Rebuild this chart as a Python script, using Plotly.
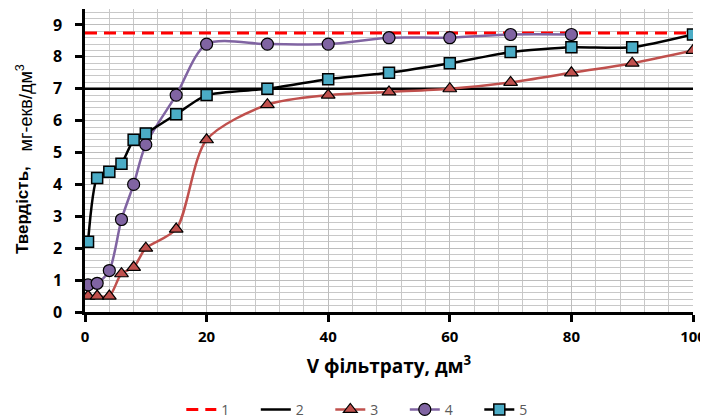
import plotly.graph_objects as go

# ---- data ----
line1_x = [0, 100]
line1_y = [8.75, 8.75]
line2_x = [0, 100]
line2_y = [7.0, 7.0]

s3_x = [0.5, 2, 4, 6, 8, 10, 15, 20, 30, 40, 50, 60, 70, 80, 90, 100]
s3_y = [0.5, 0.5, 0.5, 1.2, 1.4, 2.0, 2.6, 5.4, 6.5, 6.8, 6.9, 7.0, 7.2, 7.5, 7.8, 8.2]

s4_x = [0.5, 2, 4, 6, 8, 10, 15, 20, 30, 40, 50, 60, 70, 80]
s4_y = [0.85, 0.9, 1.3, 2.9, 4.0, 5.25, 6.8, 8.4, 8.4, 8.4, 8.6, 8.6, 8.7, 8.7]

s5_x = [0.5, 2, 4, 6, 8, 10, 15, 20, 30, 40, 50, 60, 70, 80, 90, 100]
s5_y = [2.2, 4.2, 4.4, 4.65, 5.4, 5.6, 6.2, 6.8, 7.0, 7.3, 7.5, 7.8, 8.15, 8.3, 8.3, 8.7]

legend_names = ["1", "2", "3", "4", "5"]
x_title = "V фільтрату, дм<sup>3</sup>"
y_title_main = "Твердість,"
y_title_unit = "мг-екв/дм<sup>3</sup>"

FONT = "Open Sans"
TITLE_FONT = "Liberation Sans"

fig = go.Figure()
fig.add_trace(go.Scatter(x=line1_x, y=line1_y, mode="lines", name=legend_names[0],
                         line=dict(color="#FF0000", width=3, dash="12px,7px")))
fig.add_trace(go.Scatter(x=line2_x, y=line2_y, mode="lines", name=legend_names[1],
                         line=dict(color="#000000", width=2.5)))
fig.add_trace(go.Scatter(x=s3_x, y=s3_y, mode="lines+markers", name=legend_names[2],
                         line=dict(color="#C0504D", width=2.5, shape="spline", smoothing=0.8),
                         marker=dict(symbol="triangle-up", size=12, color="#C0504D",
                                     line=dict(color="#000000", width=1.2))))
fig.add_trace(go.Scatter(x=s4_x, y=s4_y, mode="lines+markers", name=legend_names[3],
                         line=dict(color="#8064A2", width=2.5, shape="spline", smoothing=0.8),
                         marker=dict(symbol="circle", size=12, color="#8064A2",
                                     line=dict(color="#000000", width=1.2))))
fig.add_trace(go.Scatter(x=s5_x, y=s5_y, mode="lines+markers", name=legend_names[4],
                         line=dict(color="#000000", width=2.5, shape="spline", smoothing=0.6),
                         marker=dict(symbol="square", size=11, color="#4BACC6",
                                     line=dict(color="#000000", width=1.5))))

# page body has an 8px margin: figure is 700x410 so it fills the 708x418 window
fig.update_layout(
    width=700, height=410,
    margin=dict(l=77, r=15, t=1, b=106),
    paper_bgcolor="white", plot_bgcolor="white",
    font=dict(family=FONT, color="#000000"),
    showlegend=True,
    legend=dict(orientation="h", xref="container", x=0.514, xanchor="center",
                yref="container", y=0.02, yanchor="middle",
                font=dict(size=14, color="#595959"), entrywidth=29.5, entrywidthmode="pixels",
                tracegroupgap=0),
)
# y-axis title in two parts (bold quantity + unit)
fig.add_annotation(
    xref="paper", yref="paper", x=-0.1036, y=0.3366, xanchor="center", yanchor="middle",
    textangle=-90, showarrow=False, text="<b>" + y_title_main + "</b>",
    font=dict(family=TITLE_FONT, size=17, color="#000000"),
)
fig.add_annotation(
    xref="paper", yref="paper", x=-0.0987, y=0.675, xanchor="center", yanchor="middle",
    textangle=-90, showarrow=False, text=y_title_unit,
    font=dict(family=TITLE_FONT, size=18, color="#000000"),
)
fig.update_xaxes(
    range=[0, 100], dtick=20, tick0=0, automargin=False,
    showline=True, linecolor="#000000", linewidth=2.5,
    ticks="outside", ticklen=7, tickwidth=2.5, tickcolor="#000000",
    ticklabelstandoff=2,
    tickfont=dict(size=15, family=FONT, weight="bold"),
    showgrid=True, gridcolor="#BDBDBD", gridwidth=1,
    minor=dict(dtick=4, showgrid=True, gridcolor="#C8C8C8", gridwidth=1),
    zeroline=False,
    title=dict(text=x_title, font=dict(size=19, family=FONT, weight="bold"), standoff=15),
)
fig.update_yaxes(
    range=[0, 9.5], dtick=1, tick0=0, automargin=False,
    showline=True, linecolor="#000000", linewidth=2.5,
    ticks="outside", ticklen=7, tickwidth=2.5, tickcolor="#000000",
    ticklabelstandoff=10,
    tickfont=dict(size=16, family=FONT, weight="bold"),
    showgrid=True, gridcolor="#BDBDBD", gridwidth=1,
    minor=dict(dtick=0.2, showgrid=True, gridcolor="#C8C8C8", gridwidth=1),
    zeroline=False,
)

fig.write_html("out.html")
